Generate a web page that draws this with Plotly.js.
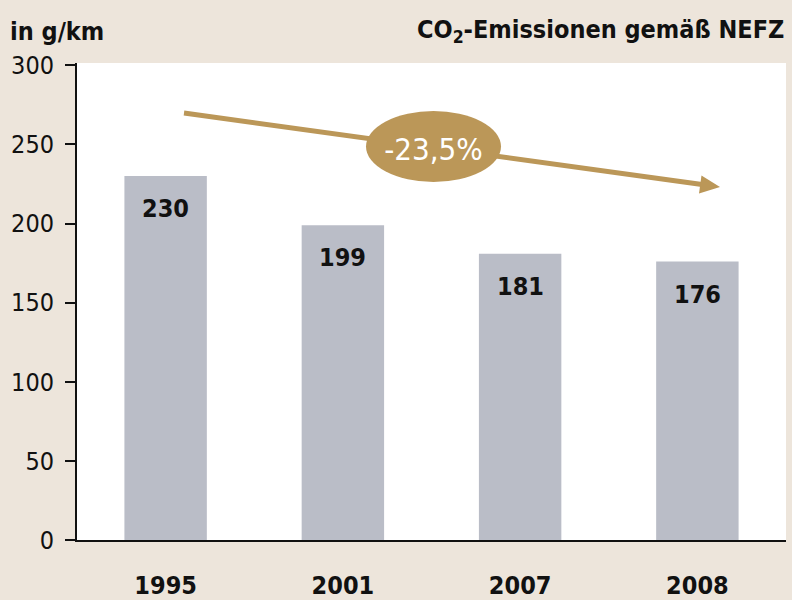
<!DOCTYPE html>
<html>
<head>
<meta charset="utf-8">
<script src="https://cdn.plot.ly/plotly-3.0.1.min.js"></script>
<style>
  html, body { margin: 0; padding: 0; background: #ede5db; }
  #chart { width: 792px; height: 600px; }
  #chart text { font-stretch: condensed; }
</style>
</head>
<body>
<div id="chart"></div>
<script>
var years = ['1995', '2001', '2007', '2008'];
var emissions = [230, 199, 181, 176];
var yTicks = [0, 50, 100, 150, 200, 250, 300];
var changeLabel = '-23,5%';

var narrow = '"DejaVu Sans Condensed", "Liberation Sans Narrow", sans-serif';
var gold = '#bb9758';

var bars = {
  type: 'bar',
  x: years,
  y: emissions,
  marker: { color: '#babdc7' },
  hoverinfo: 'skip'
};

// pixel -> paper helpers for the decoration (plot area 77..786 x 63..540)
function px(x) { return (x - 77) / 709; }
function py(y) { return (540 - y) / 477; }
function pt(x, y) { return px(x).toFixed(4) + ',' + py(y).toFixed(4); }

var anns = [];
for (var i = 0; i < years.length; i++) {
  anns.push({
    x: i, y: emissions[i], xref: 'x', yref: 'y',
    yanchor: 'top', yshift: -16, showarrow: false,
    text: String(emissions[i]),
    font: { family: narrow, size: 25, color: '#111', weight: 'bold' }
  });
}

// header texts
anns.push({
  xref: 'paper', yref: 'paper', x: -0.097, y: 1.0, yshift: 32,
  xanchor: 'left', yanchor: 'middle', showarrow: false,
  text: 'in g/km',
  font: { family: narrow, size: 25, color: '#111', weight: 'bold' }
});
anns.push({
  xref: 'paper', yref: 'paper', x: 1.0, y: 1.0, yshift: 32,
  xanchor: 'right', yanchor: 'middle', showarrow: false,
  text: 'CO<sub>2</sub>-Emissionen gemäß NEFZ',
  font: { family: narrow, size: 25, color: '#111', weight: 'bold' }
});

var layout = {
  width: 792, height: 600,
  margin: { l: 77, r: 6, t: 63, b: 60 },
  paper_bgcolor: '#ede5db',
  plot_bgcolor: '#ffffff',
  showlegend: false,
  bargap: 0.535,
  xaxis: {
    type: 'category', categoryorder: 'array', categoryarray: years,
    range: [-0.5, years.length - 0.5],
    showgrid: false, zeroline: false,
    showline: true, linecolor: '#111', linewidth: 2,
    ticks: '', ticklabelstandoff: 22,
    tickfont: { family: narrow, size: 25, color: '#111', weight: 'bold' }
  },
  yaxis: {
    range: [0, 301.5], showgrid: false, zeroline: false,
    tickvals: yTicks, ticktext: yTicks.map(String),
    showline: true, linecolor: '#111', linewidth: 2,
    ticks: 'outside', ticklen: 10, tickwidth: 2, tickcolor: '#111',
    ticklabelstandoff: 6,
    tickfont: { family: narrow, size: 25, color: '#111' }
  },
  shapes: [{
    // trend arrow shaft
    type: 'line', xref: 'paper', yref: 'paper',
    x0: px(184), y0: py(113), x1: px(702), y1: py(184.5),
    line: { color: gold, width: 5 }, layer: 'above'
  }, {
    // arrow head
    type: 'path', xref: 'paper', yref: 'paper',
    path: 'M' + pt(720, 187) + ' L' + pt(699, 193.5) + ' L' + pt(701.5, 175.5) + ' Z',
    fillcolor: gold, line: { width: 0 }, layer: 'above'
  }, {
    type: 'circle', xref: 'paper', yref: 'paper',
    x0: px(366), x1: px(501), y0: py(182), y1: py(111),
    fillcolor: gold, line: { width: 0 }, layer: 'above',
    label: {
      text: changeLabel, textposition: 'middle center',
      font: { family: narrow, size: 31, color: '#ffffff' }
    }
  }],
  annotations: anns
};

Plotly.newPlot('chart', [bars], layout, { displayModeBar: false, staticPlot: true });
</script>
</body>
</html>
